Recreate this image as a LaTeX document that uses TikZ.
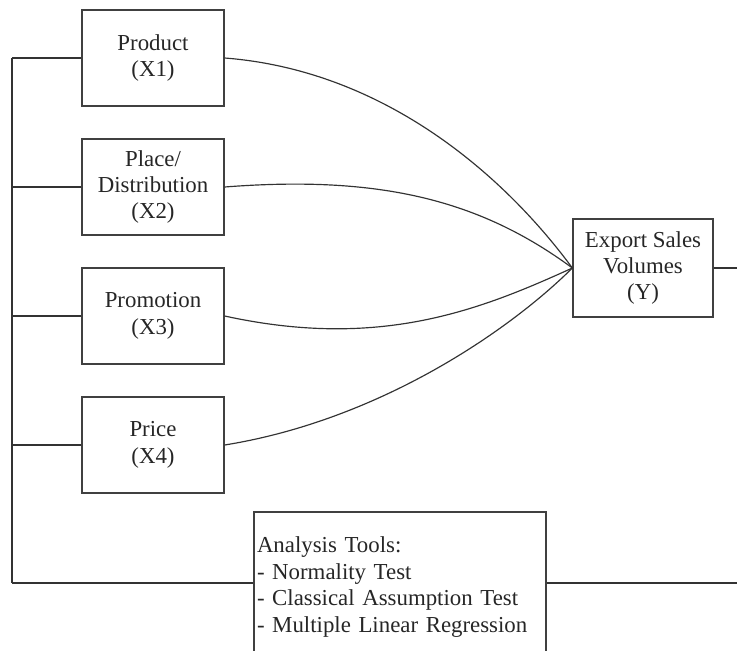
\documentclass[tikz,border=0pt]{standalone}
\usepackage{fontspec}
\setmainfont{Liberation Serif}
\begin{document}
\begin{tikzpicture}[x=0.03cm,y=-0.03cm,
    varbox/.style={draw=black!75, line width=1.1pt, minimum width=142*0.03cm, minimum height=96*0.03cm,
      align=center, inner sep=0pt, font=\fontsize{19.5}{22.5}\selectfont, text=black!85},
    link/.style={draw=black!80, line width=1pt}]
      \clip (0,0) rectangle (737,650);

      \node[varbox](prod) at (153, 58){Product\\(X1)};
      \node[varbox](plac) at (153,187){Place/\\Distribution\\(X2)};
      \node[varbox](prom) at (153,316){Promotion\\(X3)};
      \node[varbox](pric) at (153,445){Price\\(X4)};

      \node[varbox, minimum width=140*0.03cm, minimum height=98*0.03cm](expo) at (643,268){Export Sales\\Volumes\\(Y)};

      \node[varbox, minimum width=292*0.03cm, minimum height=150*0.03cm, align=left,
            text width=286*0.03cm](tool) at (400,587){Analysis Tools:\\- Normality Test\\- Classical Assumption Test\\- Multiple Linear Regression};

      \coordinate (top) at (12, 58);
      \coordinate (bot) at (12,583);
      \coordinate (rgt) at (737,583);
      \coordinate (out) at (737,268);

      % left bar and feeders
      \draw[link] (top) -- (bot);
      \foreach \n in {prod,plac,prom,pric} {
        \draw[link] (\n.west) -- (\n.west -| top);
      }
      \draw[link] (bot) -- (tool.west |- bot);
      \draw[link] (tool.east |- rgt) -- (rgt);
      \draw[link] (expo.east) -- (out);

      % curves to the dependent variable
      \draw[link] (prod.east) .. controls (380, 70) and (500,170) .. (expo.west);
      \draw[link] (plac.east) .. controls (380,175) and (480,200) .. (expo.west);
      \draw[link] (prom.east) .. controls (380,350) and (480,310) .. (expo.west);
      \draw[link] (pric.east) .. controls (380,420) and (510,330) .. (expo.west);
    \end{tikzpicture}
\end{document}
